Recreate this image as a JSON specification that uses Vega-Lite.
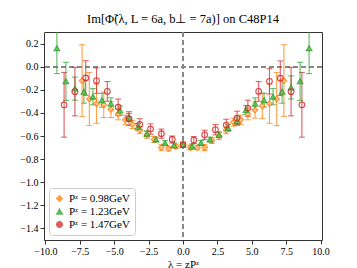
{
  "$schema": "https://vega.github.io/schema/vega-lite/v6.json",
  "width": 278,
  "height": 208,
  "autosize": "none",
  "padding": {"left": 44, "top": 32, "right": 35, "bottom": 28},
  "background": "white",
  "config": {
    "view": {"stroke": "#333", "strokeWidth": 1},
    "font": "Liberation Serif",
    "axis": {"labelFont": "Liberation Serif", "titleFont": "Liberation Serif", "labelFontSize": 10, "titleFontSize": 11, "titleFontWeight": "normal", "grid": false, "domain": false, "tickColor": "#333", "labelColor": "#000", "titleColor": "#000", "tickSize": 4, "labelOverlap": false, "labelFlush": false, "labelBound": false, "labelSeparation": 0},
    "legend": {"title": null, "orient": "bottom-left", "offset": 5, "strokeColor": "#ccc", "fillColor": "white", "padding": 5, "cornerRadius": 3, "labelFont": "Liberation Serif", "labelFontSize": 11, "rowPadding": 1, "symbolSize": 34, "symbolStrokeWidth": 1.2}
  },
  "title": {"text": "Im[Φ̃(λ, L = 6a, b⊥ = 7a)] on C48P14", "font": "Liberation Serif", "fontSize": 12.5, "fontWeight": "normal", "offset": 6},
  "datasets": {"pts": [
    {"s": "Pᶻ = 0.98GeV", "lam": 0, "v": -0.675, "e": 0.02},
    {"s": "Pᶻ = 0.98GeV", "lam": -0.524, "v": -0.69, "e": 0.02},
    {"s": "Pᶻ = 0.98GeV", "lam": 0.524, "v": -0.70, "e": 0.02},
    {"s": "Pᶻ = 0.98GeV", "lam": -1.047, "v": -0.71, "e": 0.02},
    {"s": "Pᶻ = 0.98GeV", "lam": 1.047, "v": -0.70, "e": 0.02},
    {"s": "Pᶻ = 0.98GeV", "lam": -1.571, "v": -0.70, "e": 0.025},
    {"s": "Pᶻ = 0.98GeV", "lam": 1.571, "v": -0.70, "e": 0.025},
    {"s": "Pᶻ = 0.98GeV", "lam": -2.094, "v": -0.63, "e": 0.025},
    {"s": "Pᶻ = 0.98GeV", "lam": 2.094, "v": -0.64, "e": 0.025},
    {"s": "Pᶻ = 0.98GeV", "lam": -2.618, "v": -0.59, "e": 0.03},
    {"s": "Pᶻ = 0.98GeV", "lam": 2.618, "v": -0.60, "e": 0.03},
    {"s": "Pᶻ = 0.98GeV", "lam": -3.142, "v": -0.55, "e": 0.03},
    {"s": "Pᶻ = 0.98GeV", "lam": 3.142, "v": -0.55, "e": 0.03},
    {"s": "Pᶻ = 0.98GeV", "lam": -3.665, "v": -0.50, "e": 0.035},
    {"s": "Pᶻ = 0.98GeV", "lam": 3.665, "v": -0.48, "e": 0.035},
    {"s": "Pᶻ = 0.98GeV", "lam": -4.189, "v": -0.46, "e": 0.04},
    {"s": "Pᶻ = 0.98GeV", "lam": 4.189, "v": -0.46, "e": 0.04},
    {"s": "Pᶻ = 0.98GeV", "lam": -4.712, "v": -0.41, "e": 0.05},
    {"s": "Pᶻ = 0.98GeV", "lam": 4.712, "v": -0.41, "e": 0.05},
    {"s": "Pᶻ = 0.98GeV", "lam": -5.236, "v": -0.37, "e": 0.07},
    {"s": "Pᶻ = 0.98GeV", "lam": 5.236, "v": -0.375, "e": 0.07},
    {"s": "Pᶻ = 0.98GeV", "lam": -5.760, "v": -0.33, "e": 0.11},
    {"s": "Pᶻ = 0.98GeV", "lam": 5.760, "v": -0.34, "e": 0.11},
    {"s": "Pᶻ = 0.98GeV", "lam": -6.283, "v": -0.32, "e": 0.17},
    {"s": "Pᶻ = 0.98GeV", "lam": 6.283, "v": -0.32, "e": 0.17},
    {"s": "Pᶻ = 0.98GeV", "lam": -6.807, "v": -0.28, "e": 0.23},
    {"s": "Pᶻ = 0.98GeV", "lam": 6.807, "v": -0.28, "e": 0.23},
    {"s": "Pᶻ = 0.98GeV", "lam": -7.330, "v": -0.12, "e": 0.31},
    {"s": "Pᶻ = 0.98GeV", "lam": 7.330, "v": -0.12, "e": 0.31},
    {"s": "Pᶻ = 1.23GeV", "lam": 0, "v": -0.675, "e": 0.015},
    {"s": "Pᶻ = 1.23GeV", "lam": -0.654, "v": -0.68, "e": 0.02},
    {"s": "Pᶻ = 1.23GeV", "lam": 0.654, "v": -0.69, "e": 0.02},
    {"s": "Pᶻ = 1.23GeV", "lam": -1.309, "v": -0.66, "e": 0.02},
    {"s": "Pᶻ = 1.23GeV", "lam": 1.309, "v": -0.66, "e": 0.02},
    {"s": "Pᶻ = 1.23GeV", "lam": -1.963, "v": -0.63, "e": 0.02},
    {"s": "Pᶻ = 1.23GeV", "lam": 1.963, "v": -0.63, "e": 0.02},
    {"s": "Pᶻ = 1.23GeV", "lam": -2.618, "v": -0.58, "e": 0.025},
    {"s": "Pᶻ = 1.23GeV", "lam": 2.618, "v": -0.59, "e": 0.025},
    {"s": "Pᶻ = 1.23GeV", "lam": -3.272, "v": -0.52, "e": 0.03},
    {"s": "Pᶻ = 1.23GeV", "lam": 3.272, "v": -0.53, "e": 0.03},
    {"s": "Pᶻ = 1.23GeV", "lam": -3.927, "v": -0.44, "e": 0.035},
    {"s": "Pᶻ = 1.23GeV", "lam": 3.927, "v": -0.47, "e": 0.035},
    {"s": "Pᶻ = 1.23GeV", "lam": -4.581, "v": -0.38, "e": 0.04},
    {"s": "Pᶻ = 1.23GeV", "lam": 4.581, "v": -0.375, "e": 0.04},
    {"s": "Pᶻ = 1.23GeV", "lam": -5.236, "v": -0.32, "e": 0.05},
    {"s": "Pᶻ = 1.23GeV", "lam": 5.236, "v": -0.32, "e": 0.05},
    {"s": "Pᶻ = 1.23GeV", "lam": -5.890, "v": -0.29, "e": 0.06},
    {"s": "Pᶻ = 1.23GeV", "lam": 5.890, "v": -0.29, "e": 0.06},
    {"s": "Pᶻ = 1.23GeV", "lam": -6.545, "v": -0.26, "e": 0.07},
    {"s": "Pᶻ = 1.23GeV", "lam": 6.545, "v": -0.26, "e": 0.07},
    {"s": "Pᶻ = 1.23GeV", "lam": -7.199, "v": -0.216, "e": 0.1},
    {"s": "Pᶻ = 1.23GeV", "lam": 7.199, "v": -0.216, "e": 0.1},
    {"s": "Pᶻ = 1.23GeV", "lam": -7.854, "v": -0.19, "e": 0.1},
    {"s": "Pᶻ = 1.23GeV", "lam": 7.854, "v": -0.18, "e": 0.1},
    {"s": "Pᶻ = 1.23GeV", "lam": -8.508, "v": -0.127, "e": 0.165},
    {"s": "Pᶻ = 1.23GeV", "lam": 8.508, "v": -0.127, "e": 0.165},
    {"s": "Pᶻ = 1.23GeV", "lam": -9.163, "v": 0.16, "e": 0.22},
    {"s": "Pᶻ = 1.23GeV", "lam": 9.163, "v": 0.16, "e": 0.22},
    {"s": "Pᶻ = 1.47GeV", "lam": 0, "v": -0.675, "e": 0.02},
    {"s": "Pᶻ = 1.47GeV", "lam": -0.785, "v": -0.63, "e": 0.03},
    {"s": "Pᶻ = 1.47GeV", "lam": 0.785, "v": -0.635, "e": 0.03},
    {"s": "Pᶻ = 1.47GeV", "lam": -1.571, "v": -0.58, "e": 0.04},
    {"s": "Pᶻ = 1.47GeV", "lam": 1.571, "v": -0.59, "e": 0.04},
    {"s": "Pᶻ = 1.47GeV", "lam": -2.356, "v": -0.54, "e": 0.045},
    {"s": "Pᶻ = 1.47GeV", "lam": 2.356, "v": -0.545, "e": 0.045},
    {"s": "Pᶻ = 1.47GeV", "lam": -3.142, "v": -0.50, "e": 0.05},
    {"s": "Pᶻ = 1.47GeV", "lam": 3.142, "v": -0.505, "e": 0.05},
    {"s": "Pᶻ = 1.47GeV", "lam": -3.927, "v": -0.45, "e": 0.06},
    {"s": "Pᶻ = 1.47GeV", "lam": 3.927, "v": -0.445, "e": 0.06},
    {"s": "Pᶻ = 1.47GeV", "lam": -4.712, "v": -0.35, "e": 0.07},
    {"s": "Pᶻ = 1.47GeV", "lam": 4.712, "v": -0.36, "e": 0.07},
    {"s": "Pᶻ = 1.47GeV", "lam": -5.498, "v": -0.214, "e": 0.085},
    {"s": "Pᶻ = 1.47GeV", "lam": 5.498, "v": -0.214, "e": 0.085},
    {"s": "Pᶻ = 1.47GeV", "lam": -6.283, "v": -0.121, "e": 0.11},
    {"s": "Pᶻ = 1.47GeV", "lam": 6.283, "v": -0.127, "e": 0.11},
    {"s": "Pᶻ = 1.47GeV", "lam": -7.069, "v": -0.098, "e": 0.15},
    {"s": "Pᶻ = 1.47GeV", "lam": 7.069, "v": -0.10, "e": 0.15},
    {"s": "Pᶻ = 1.47GeV", "lam": -7.854, "v": -0.216, "e": 0.21},
    {"s": "Pᶻ = 1.47GeV", "lam": 7.854, "v": -0.216, "e": 0.21},
    {"s": "Pᶻ = 1.47GeV", "lam": -8.639, "v": -0.33, "e": 0.28},
    {"s": "Pᶻ = 1.47GeV", "lam": 8.639, "v": -0.33, "e": 0.28}
  ]},
  "data": {"name": "pts"},
  "encoding": {
    "x": {"field": "lam", "type": "quantitative", "title": "λ = zPᶻ",
      "scale": {"domain": [-10.1, 10.1], "nice": false},
      "axis": {"values": [-10, -7.5, -5, -2.5, 0, 2.5, 5, 7.5, 10], "format": ".1f", "titlePadding": 2, "labelOverlap": false}},
    "y": {"field": "v", "type": "quantitative", "title": null,
      "scale": {"domain": [-1.5, 0.3], "nice": false, "zero": false},
      "axis": {"values": [0.2, 0, -0.2, -0.4, -0.6, -0.8, -1, -1.2, -1.4], "format": ".1f", "labelOverlap": false}}
  },
  "layer": [
    {
      "mark": {"type": "rule", "strokeDash": [5, 3], "color": "#888", "strokeWidth": 1.3},
      "encoding": {"x": {"datum": 0, "type": "quantitative"}, "y": null}
    },
    {
      "mark": {"type": "rule", "strokeDash": [5, 3], "color": "#888", "strokeWidth": 1.3},
      "encoding": {"y": {"datum": 0, "type": "quantitative"}, "x": null}
    },
    {
      "mark": {"type": "errorbar", "ticks": {"size": 6, "strokeWidth": 1.1}, "rule": {"strokeWidth": 1.1}, "clip": true, "opacity": 0.75},
      "encoding": {
        "yError": {"field": "e"},
        "color": {"field": "s", "type": "nominal"}
      }
    },
    {
      "mark": {"type": "point", "size": 32, "strokeWidth": 1.1, "clip": true, "opacity": 0.85},
      "encoding": {
        "color": {"field": "s", "type": "nominal",
          "scale": {"domain": ["Pᶻ = 0.98GeV", "Pᶻ = 1.23GeV", "Pᶻ = 1.47GeV"], "range": ["#ff7f0e", "#2ca02c", "#d62728"]}},
        "shape": {"field": "s", "type": "nominal",
          "scale": {"domain": ["Pᶻ = 0.98GeV", "Pᶻ = 1.23GeV", "Pᶻ = 1.47GeV"], "range": ["diamond", "triangle-up", "circle"]}},
        "fill": {"field": "s", "type": "nominal",
          "scale": {"domain": ["Pᶻ = 0.98GeV", "Pᶻ = 1.23GeV", "Pᶻ = 1.47GeV"], "range": ["#ffc68f", "#5cc35c", "rgba(255,255,255,0)"]}}
      }
    }
  ]
}
